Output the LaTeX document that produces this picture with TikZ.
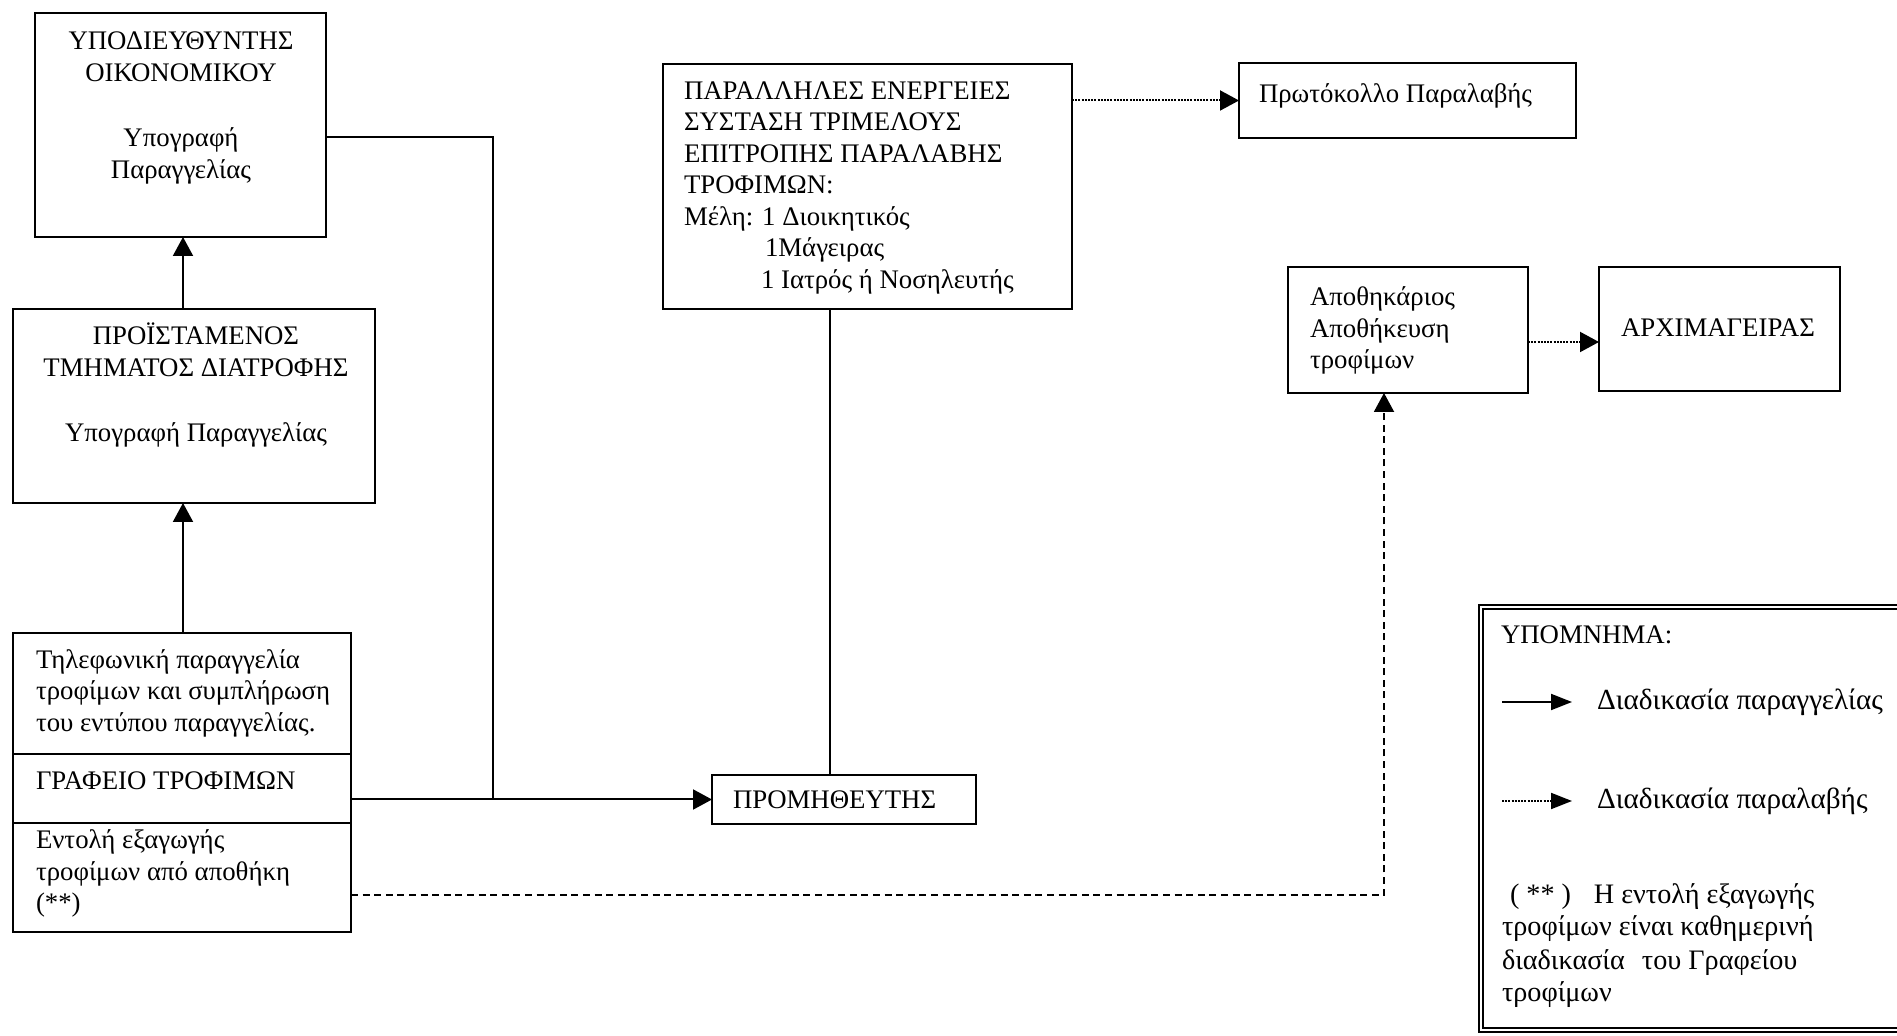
\documentclass[tikz,border=0pt]{standalone}
\usepackage{fontspec}
\setmainfont{Liberation Serif}
\usetikzlibrary{arrows.meta}
\newcommand{\st}{\rule{0pt}{12pt}}
\begin{document}
\begin{tikzpicture}[x=0.5pt,y=-0.5pt,
  every node/.style={font=\fontsize{13.4}{15.75}\selectfont},
  box/.style={draw, line width=1.1pt, anchor=north west, inner sep=0pt, outer sep=0pt},
  txt/.style={inner sep=0pt, outer sep=0pt, anchor=north west, align=left},
  ctxt/.style={inner sep=0pt, outer sep=0pt, anchor=north, align=center},
  legfont/.style={font=\fontsize{14.6}{16}\selectfont},
  notefont/.style={font=\fontsize{14.1}{16.5}\selectfont},
  tip/.style={-{Triangle[length=9.5pt,width=10pt]}},
  ltip/.style={-{Triangle[length=10.5pt,width=8pt]}},
  ord/.style={line width=1pt, tip},
  rec/.style={line width=1pt, dash pattern=on 1pt off 0.6pt, tip},
  dsh/.style={line width=1pt, dash pattern=on 3.5pt off 2.3pt, tip},
  plain/.style={line width=1pt}]
\useasboundingbox (0,0) rectangle (1897,1036);
\clip (0,0) rectangle (1897,1036);
\fill[white] (0,0) rectangle (1897,1036);

% boxes
\node[box, minimum width=145.5pt, minimum height=112pt] (B1) at (35,13) {};
\node[box, minimum width=181pt, minimum height=97pt] (B2) at (13,309) {};
\node[box, minimum width=169pt, minimum height=60.5pt] (B3a) at (13,633) {};
\node[box, minimum width=169pt, minimum height=34.5pt] (B3b) at (13,754) {};
\node[box, minimum width=169pt, minimum height=54.5pt] (B3c) at (13,823) {};
\node[box, minimum width=132pt, minimum height=24.5pt] (PROM) at (712,775) {};
\node[box, minimum width=204.5pt, minimum height=122.5pt] (P) at (663,64) {};
\node[box, minimum width=168.5pt, minimum height=37.5pt] (PR) at (1239,63) {};
\node[box, minimum width=120pt, minimum height=63pt] (AP) at (1288,267) {};
\node[box, minimum width=120.5pt, minimum height=62pt] (AR) at (1599,267) {};
\node[box, line width=0.9pt, double, double distance=1.2pt, minimum width=216pt, minimum height=211.5pt] (LG) at (1481,607) {};

% texts
\node[ctxt] (t1) at (181,26) {\st ΥΠΟΔΙΕΥΘΥΝΤΗΣ\\ΟΙΚΟΝΟΜΙΚΟΥ\\[17pt]Υπογραφή\\Παραγγελίας};
\node[ctxt] (t2) at (196,321) {\st ΠΡΟΪΣΤΑΜΕΝΟΣ\\ΤΜΗΜΑΤΟΣ ΔΙΑΤΡΟΦΗΣ\\[17pt]Υπογραφή Παραγγελίας};
\node[txt] (t3a) at (36,644.5) {\st Τηλεφωνική παραγγελία\\τροφίμων και συμπλήρωση\\του εντύπου παραγγελίας.};
\node[txt] (t3b) at (36,766) {\st ΓΡΑΦΕΙΟ ΤΡΟΦΙΜΩΝ};
\node[txt] (t3c) at (36,825) {\st Εντολή εξαγωγής\\τροφίμων από αποθήκη\\(**)};
\node[txt] (tPROM) at (733,785) {\st ΠΡΟΜΗΘΕΥΤΗΣ};
\node[txt] (tP) at (684,75.5) {\st ΠΑΡΑΛΛΗΛΕΣ ΕΝΕΡΓΕΙΕΣ\\ΣΥΣΤΑΣΗ ΤΡΙΜΕΛΟΥΣ\\ΕΠΙΤΡΟΠΗΣ ΠΑΡΑΛΑΒΗΣ\\ΤΡΟΦΙΜΩΝ:\\Μέλη: 1 Διοικητικός\\\hspace*{40.5pt}1Μάγειρας\\\hspace*{38.5pt}1 Ιατρός ή Νοσηλευτής};
\node[txt] (tPR) at (1259,79) {\st Πρωτόκολλο Παραλαβής};
\node[txt] (tAP) at (1310,282) {\st Αποθηκάριος\\Αποθήκευση\\τροφίμων};
\node[txt] (tAR) at (1621,313) {\st ΑΡΧΙΜΑΓΕΙΡΑΣ};
\node[txt] (tL0) at (1501,620) {\st ΥΠΟΜΝΗΜΑ:};
\node[txt, legfont] (tL1) at (1597,686) {\st Διαδικασία παραγγελίας};
\node[txt, legfont] (tL2) at (1597,785) {\st Διαδικασία παραλαβής};
\node[txt, notefont] (tL3) at (1502,879) {\st \makebox[46pt][l]{\hspace*{4pt}( ** )}Η εντολή εξαγωγής\\τροφίμων είναι καθημερινή\\\makebox[70pt][l]{διαδικασία}του Γραφείου\\τροφίμων};

% coordinates
\coordinate (ax) at (183,0);
\coordinate (j1) at (493,137);
\coordinate (j2) at (493,800);
\coordinate (px) at (830,0);
\coordinate (ay) at (0,342);
\coordinate (dj) at (1384,895);
\coordinate (l1a) at (1502,702);
\coordinate (l1b) at (1572,702);
\coordinate (l2a) at (1502,801);
\coordinate (l2b) at (1572,801);

% connectors
\draw[ord] (B3a.north -| ax) -- (B2.south -| ax);
\draw[ord] (B2.north -| ax) -- (B1.south -| ax);
\draw[plain] (B1.east |- j1) -- (j1) -- (j2);
\draw[ord] (B3b.east |- PROM.west) -- (PROM.west);
\draw[plain] (P.south -| px) -- (PROM.north -| px);
\draw[rec] (P.east |- PR.west) -- (PR.west);
\draw[rec] (AP.east |- ay) -- (AR.west |- ay);
\draw[dsh] (B3c.east |- dj) -- (dj) -- (AP.south -| dj);

% legend arrows
\draw[line width=1pt, ltip] (l1a) -- (l1b);
\draw[line width=1pt, dash pattern=on 1pt off 0.6pt, ltip] (l2a) -- (l2b);
\end{tikzpicture}
\end{document}
